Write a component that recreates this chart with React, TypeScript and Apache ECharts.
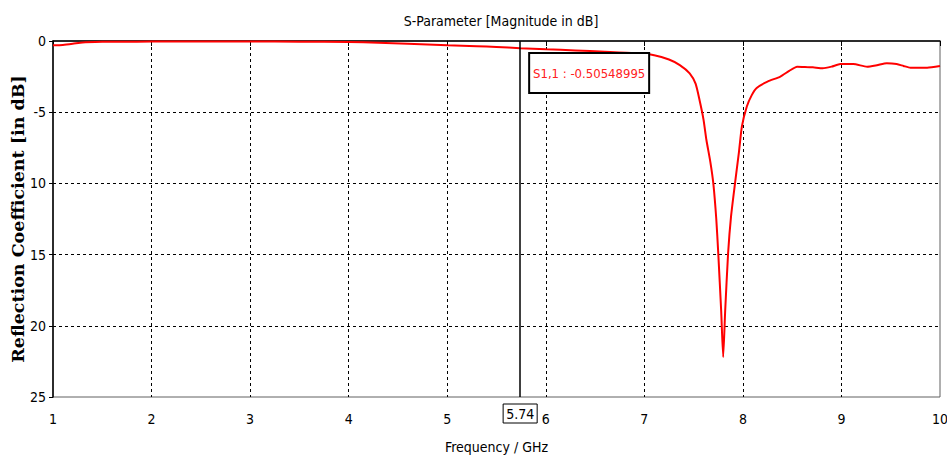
import React, { useEffect, useRef } from "react";
import * as echarts from "echarts";

const freqGHz = [1, 1.1, 1.2, 1.3, 1.5, 1.7, 2, 2.5, 3, 3.5, 4, 4.3, 4.6, 5, 5.3, 5.5, 5.74, 6, 6.3, 6.6, 6.9, 7.1, 7.25, 7.36, 7.46, 7.52, 7.56, 7.6, 7.63, 7.67, 7.7, 7.73, 7.75, 7.78, 7.8, 7.82, 7.85, 7.88, 7.92, 7.96, 7.99, 8.04, 8.09, 8.14, 8.25, 8.38, 8.47, 8.55, 8.63, 8.71, 8.81, 8.9, 8.99, 9.12, 9.26, 9.36, 9.46, 9.56, 9.63, 9.7, 9.87, 10];
const s11dB = [-0.3, -0.28, -0.2, -0.1, -0.06, -0.05, -0.04, -0.04, -0.04, -0.05, -0.07, -0.12, -0.2, -0.3, -0.36, -0.42, -0.505, -0.58, -0.66, -0.75, -0.85, -1.0, -1.3, -1.69, -2.27, -3.0, -4.14, -5.5, -6.95, -8.5, -10, -12.5, -14.9, -19, -22.2, -19, -14.9, -12.3, -10, -7.8, -6.0, -4.6, -3.8, -3.3, -2.85, -2.5, -2.1, -1.8, -1.82, -1.85, -1.92, -1.8, -1.62, -1.62, -1.8, -1.7, -1.57, -1.62, -1.75, -1.87, -1.87, -1.75];

const yTickValues = [0, -5, -10, -15, -20, -25];
const yTickLabels = ["0", "-5", "10", "15", "20", "25"];

const markerFreq = 5.74;
const markerValue = -0.50548995;

const tickFont = "'DejaVu Sans Condensed', 'DejaVu Sans', sans-serif";

export default function App() {
  const ref = useRef<HTMLDivElement>(null);
  useEffect(() => {
    if (!ref.current) return;
    const chart = echarts.init(ref.current, null, { renderer: "svg" });
    const data = freqGHz.map((f, i) => [f, s11dB[i]]);
    chart.setOption({
      animation: false,
      backgroundColor: "#fff",
      title: {
        text: "S-Parameter [Magnitude in dB]",
        left: 496,
        top: 9,
        textAlign: "center",
        textStyle: { fontFamily: tickFont, fontSize: 14, fontWeight: "normal", color: "#000" },
      },
      grid: {
        left: 53,
        right: 7,
        top: 41,
        bottom: 62,
        outerBoundsMode: "none",
        containLabel: false,
        show: true,
        borderColor: "#606060",
        borderWidth: 1,
        backgroundColor: "transparent",
      },
      xAxis: {
        type: "value",
        min: 1,
        max: 10,
        interval: 1,
        name: "Frequency / GHz",
        nameLocation: "middle",
        nameGap: 43,
        nameMoveOverlap: false,
        nameTextStyle: { fontFamily: tickFont, fontSize: 14, color: "#000" },
        axisLine: { show: true, lineStyle: { color: "#000", width: 1.5 } },
        axisTick: { show: true, length: 5, lineStyle: { color: "#000" } },
        axisLabel: { fontFamily: tickFont, fontSize: 14, color: "#000", margin: 15 },
        splitLine: {
          show: true,
          lineStyle: {
            color: ["rgba(0,0,0,0)", "#000", "#000", "#000", "#000", "#000", "#000", "#000", "#000", "rgba(0,0,0,0)"],
            type: [3, 3],
            width: 1,
          },
        },
      },
      yAxis: {
        type: "value",
        min: -25,
        max: 0,
        interval: 5,
        name: "Reflection Coefficient [in dB]",
        nameLocation: "middle",
        nameGap: 26,
        nameMoveOverlap: false,
        nameTextStyle: { fontFamily: "'DejaVu Serif', serif", fontSize: 17.5, fontWeight: "bold", color: "#000" },
        axisLine: { show: true, lineStyle: { color: "#000", width: 1.5 } },
        axisTick: { show: true, length: 4, lineStyle: { color: "#000" } },
        axisLabel: {
          fontFamily: tickFont,
          fontSize: 14,
          color: "#000",
          margin: 7,
          formatter: (v: number) => {
            const i = yTickValues.indexOf(v);
            return i >= 0 ? yTickLabels[i] : "";
          },
        },
        splitLine: {
          show: true,
          lineStyle: {
            color: ["rgba(0,0,0,0)", "#000", "#000", "#000", "#000", "rgba(0,0,0,0)"],
            type: [3, 3],
            width: 1,
          },
        },
      },
      series: [
        {
          type: "line",
          data,
          showSymbol: false,
          smooth: 0.2,
          lineStyle: { color: "#ff0000", width: 2 },
          markLine: {
            silent: true,
            symbol: ["none", "none"],
            lineStyle: { color: "#000", width: 1.5, type: "solid" },
            label: {
              show: true,
              position: "start",
              formatter: String(markerFreq),
              fontFamily: tickFont,
              fontSize: 14,
              color: "#000",
              borderColor: "#000",
              borderWidth: 1,
              padding: [3, 3, 2, 3],
              distance: 7,
            },
            data: [{ xAxis: markerFreq }],
          },
        },
      ],
    });
    const p = chart.convertToPixel({ gridIndex: 0 }, [markerFreq, 0]) as number[];
    const bx = p[0] + 9;
    const by = p[1] + 12;
    chart.setOption({
      graphic: [
        {
          type: "rect",
          shape: { x: bx, y: by, width: 120, height: 40 },
          style: { fill: "#fff", stroke: "#000", lineWidth: 2 },
          z: 100,
        },
        {
          type: "text",
          x: bx + 60,
          y: by + 20,
          z: 101,
          style: {
            text: `S1,1 : ${markerValue}`,
            fill: "#ff2020",
            font: `13px ${tickFont}`,
            align: "center",
            verticalAlign: "middle",
          },
        },
      ],
    });
    return () => chart.dispose();
  }, []);
  return (
    <div
      ref={ref}
      style={{ position: "fixed", left: 0, top: 0, width: 947, height: 459 }}
    />
  );
}
